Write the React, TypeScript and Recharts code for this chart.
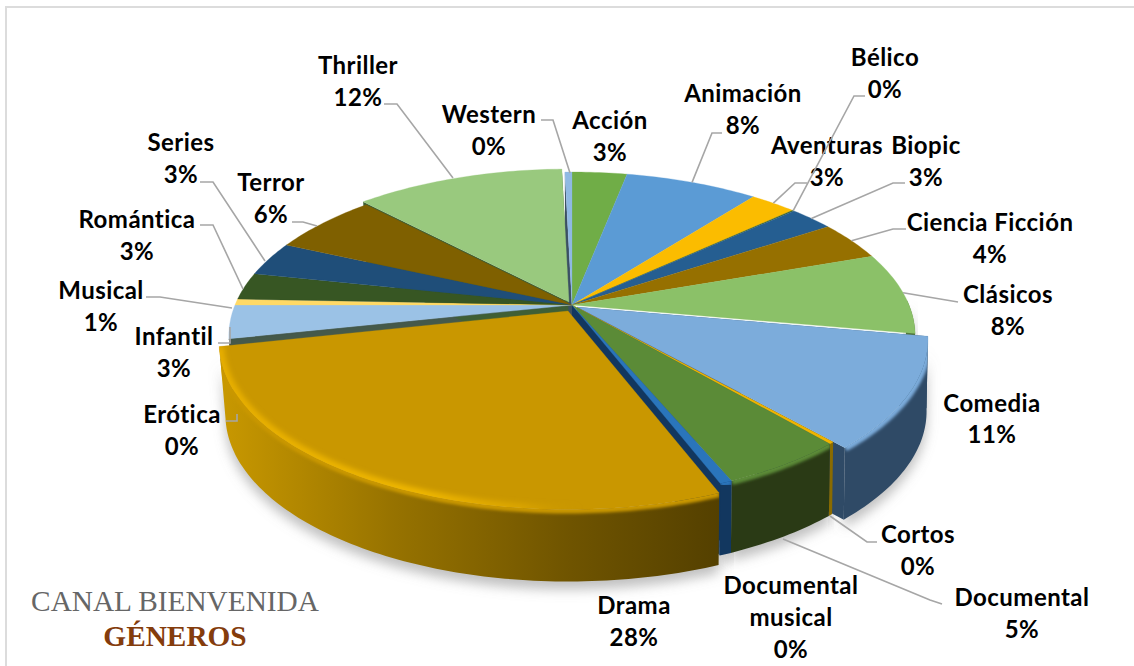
import React from "react";
import { PieChart, Pie } from "recharts";

// Share of programming per genre, in percent
const GENRES = ["Acción","Animación","Aventuras","Bélico","Biopic","Ciencia Ficción","Clásicos","Comedia","Cortos","Documental","Documental musical","Drama","Erótica","Infantil","Musical","Romántica","Series","Terror","Thriller","Western"];
const SHARES = [3.1,7.5,2.6,0.1,2.5,3.9,8.1,10.6,0.2,5.0,0.49,27.5,0.11,3.3,0.6,2.7,3.4,6.1,11.8,0.4];
const TOP_COLORS = ["#70ad47","#5b9bd5","#fbbc00","#43682b","#255e91","#967000","#8bc168","#7cacdb","#f0b400","#5b8b37","#2a75bb","#c99700","#45594a","#9bc2e6","#ffd966","#375623","#1f4e79","#7f6000","#99c97e","#8fb9e3"];
const WALL_COLORS = ["#3f6628","#2f5b85","#8f6c00","#2a421b","#153a5c","#5a4300","#4a6d35","#2f4a66","#8a6b00","#2a3a15","#12375f","url(#dramaWall)","#45594a","#45594a","#8f7a30","#1f3214","#123049","#4a3800","#3f5f35","#3b4f63"];
const RIM_COLORS: Record<string, string> = { Comedia: "#7cacdb", Documental: "#5b8b37", Drama: "#c99700", "Documental musical": "#2a75bb" };

// Slices whose outer wall lies behind the pulled-out Drama slice
const WALL_HIDDEN = ["Erótica", "Infantil", "Musical"];
// Slices whose radial faces show through the gaps of the pulled-out slices
const FACES_SHOWN = ["Comedia", "Documental musical", "Erótica", "Thriller", "Western"];

// Displacement of the pulled-out slices
const EXPLODE: Record<string, { dx: number; dy: number; grow: number }> = {
  Comedia: { dx: 5, dy: 2, grow: 1.022 },
  Drama: { dx: -4, dy: 6, grow: 1.016 },
  Thriller: { dx: -3, dy: -3, grow: 1 },
};

// Label text lines, their centre and the bent part of each leader line
type Callout = { x: number; ys: number[]; lines?: string[]; line?: number[][]; fromRim?: boolean };
const CALLOUTS: Record<string, Callout> = {
  "Acción": { x: 610, ys: [119, 151] },
  "Animación": { x: 743, ys: [92, 124], line: [[712, 133], [722, 133]], fromRim: true },
  "Bélico": { x: 885, ys: [56, 88], line: [[854, 96], [865, 96]], fromRim: true },
  "Aventuras": { x: 827, ys: [144, 176], line: [[795, 183], [807, 183]], fromRim: true },
  "Biopic": { x: 926, ys: [144, 176], line: [[893, 183], [905, 183]], fromRim: true },
  "Ciencia Ficción": { x: 990, ys: [221, 253], line: [[893, 229], [906, 229]], fromRim: true },
  "Clásicos": { x: 1008, ys: [293, 325], line: [[958, 302]], fromRim: true },
  "Comedia": { x: 992, ys: [402, 433] },
  "Cortos": { x: 918, ys: [533, 565], line: [[830, 516], [867, 542], [877, 542]] },
  "Documental": { x: 1022, ys: [596, 628], line: [[783, 539], [930, 600], [942, 604]] },
  "Documental musical": { x: 791, ys: [584, 616, 648], lines: ["Documental", "musical"] },
  "Drama": { x: 634, ys: [604, 636] },
  "Erótica": { x: 182, ys: [413, 445], line: [[226, 421], [237, 421], [237, 414]] },
  "Infantil": { x: 174, ys: [335, 367], line: [[218, 343], [230, 343], [230, 327]] },
  "Musical": { x: 101, ys: [289, 321], line: [[146, 297], [160, 297], [232, 308]] },
  "Romántica": { x: 137, ys: [218, 250], line: [[200, 225], [213, 225], [243, 289]] },
  "Series": { x: 181, ys: [141, 173], line: [[200, 182], [213, 182], [265, 261]] },
  "Terror": { x: 271, ys: [181, 213], line: [[292, 222], [303, 222], [317, 226]] },
  "Thriller": { x: 358, ys: [64, 96], line: [[384, 104], [397, 104], [453, 178]] },
  "Western": { x: 489, ys: [113, 145], line: [[541, 120], [553, 120], [570, 173]] },
};

const pieData = GENRES.map((name, i) => ({ name, value: SHARES[i] }));

// Tilted disc: horizontal radius comes from the Pie, the rest from the viewing angle
const CENTER = { x: 572, y: 305 };
const RX = 337;
const RY = 158;
const DEPTH = 72;
const PERSPECTIVE = 5.31;
const RAD = Math.PI / 180;

const scaleAt = (depthY: number) => PERSPECTIVE / (PERSPECTIVE - depthY);

function project(cx: number, cy: number, rx: number, deg: number, radial: number, name: string, lower: boolean) {
  const e = EXPLODE[name] ?? { dx: 0, dy: 0, grow: 1 };
  const X = Math.sin(deg * RAD) * radial * e.grow;
  const Y = -Math.cos(deg * RAD) * radial * e.grow;
  const s = scaleAt(Y);
  // The lower disc sits slightly inside the upper one, more so on the left
  const inset = lower ? (X < 0 ? 0.982 : 0.996) : 1;
  return {
    x: cx + e.dx + rx * X * s * inset,
    y: cy + e.dy + RY * Y * s + (lower ? DEPTH : 0),
  };
}

function arcPoints(p: any, from: number, to: number, lower: boolean) {
  const out: { x: number; y: number }[] = [];
  const steps = Math.max(1, Math.ceil(Math.abs(to - from)));
  for (let i = 0; i <= steps; i++) {
    out.push(project(p.cx, p.cy, p.outerRadius, from + ((to - from) * i) / steps, 1, p.name, lower));
  }
  return out;
}

const toPath = (pts: { x: number; y: number }[], close = true) =>
  pts.map((q, i) => `${i ? "L" : "M"}${q.x.toFixed(2)} ${q.y.toFixed(2)}`).join(" ") + (close ? " Z" : "");

// Pie angles run counter-clockwise from the east; the disc is laid out clockwise from the north
const clockAngles = (p: any) => {
  const a = 90 - p.startAngle;
  const b = 90 - p.endAngle;
  return [Math.min(a, b), Math.max(a, b)];
};

function frontSpan(a: number, b: number) {
  const lo = Math.max(a, 88);
  const hi = Math.min(b, 272);
  return hi > lo ? [lo, hi] : null;
}

function TopFace(p: any) {
  const [a, b] = clockAngles(p);
  const arc = arcPoints(p, a, b, false);
  const pts = [project(p.cx, p.cy, p.outerRadius, 0, 0, p.name, false), ...arc];
  const fill = TOP_COLORS[GENRES.indexOf(p.name)];
  return (
    <g>
      <path d={toPath(pts)} fill={fill} stroke={fill} strokeWidth={0.3} />
      {p.name === "Drama" && (
        <>
          <clipPath id="dramaTop">
            <path d={toPath(pts)} />
          </clipPath>
          <g clipPath="url(#dramaTop)">
            <path d={toPath(arc, false)} fill="none" stroke="url(#dramaGlow)" strokeWidth={10} filter="url(#glowSoft)" />
          </g>
        </>
      )}
    </g>
  );
}

function CutFaces(p: any) {
  if (!FACES_SHOWN.includes(p.name)) return <g />;
  const [a, b] = clockAngles(p);
  const fill = WALL_COLORS[GENRES.indexOf(p.name)];
  const face = (deg: number) => {
    const apex = project(p.cx, p.cy, p.outerRadius, 0, 0, p.name, false);
    const apexLow = project(p.cx, p.cy, p.outerRadius, 0, 0, p.name, true);
    const rim = project(p.cx, p.cy, p.outerRadius, deg, 1, p.name, false);
    const rimLow = project(p.cx, p.cy, p.outerRadius, deg, 1, p.name, true);
    return toPath([apex, rim, rimLow, apexLow]);
  };
  return (
    <g fill={fill}>
      <path d={face(a)} />
      <path d={face(b)} />
    </g>
  );
}

function OuterWall(p: any) {
  const [a, b] = clockAngles(p);
  const span = frontSpan(a, b);
  if (!span || WALL_HIDDEN.includes(p.name)) return <g />;
  const up = arcPoints(p, span[0], span[1], false);
  const down = arcPoints(p, span[0], span[1], true).reverse();
  const i = GENRES.indexOf(p.name);
  const rim = RIM_COLORS[p.name];
  return (
    <g>
      <path d={toPath([...up, ...down])} fill={WALL_COLORS[i]} />
      {rim && (
        <>
          <clipPath id={`wall-${i}`}>
            <path d={toPath([...up, ...down])} />
          </clipPath>
          <g clipPath={`url(#wall-${i})`}>
            <path d={toPath(up, false)} fill="none" stroke={rim} strokeWidth={8} filter="url(#rimSoft)" />
          </g>
        </>
      )}
    </g>
  );
}

function GroundShadow(p: any) {
  const [a, b] = clockAngles(p);
  const span = frontSpan(a, b);
  if (!span || WALL_HIDDEN.includes(p.name)) return <g />;
  const up = arcPoints(p, span[0], span[1], false);
  const down = arcPoints(p, span[0], span[1], true).reverse();
  return <path d={toPath([...up, ...down])} transform="translate(0 8)" fill="#8c8c8c" fillOpacity={0.55} filter="url(#groundBlur)" />;
}

function Callout(props: any) {
  const name = GENRES[props.index];
  const c = CALLOUTS[name];
  const textLines = [...(c.lines ?? [name]), `${Math.round(SHARES[props.index])}%`];
  const rim = project(CENTER.x, CENTER.y, RX, 90 - props.midAngle, 1, name, false);
  const path = c.line ? [...(c.fromRim ? [rim] : []), ...c.line.map(([x, y]) => ({ x, y }))] : null;
  return (
    <g>
      {path && <path d={toPath(path, false)} fill="none" stroke="#a6a6a6" strokeWidth={1.6} />}
      {textLines.map((t, i) => (
        <text key={t + i} x={c.x} y={c.ys[i]} textAnchor="middle" dominantBaseline="central" fontFamily="Lato, sans-serif" fontWeight={700} fontSize={24} letterSpacing={0.45} fill="#000">
          {t}
        </text>
      ))}
    </g>
  );
}

const pieFrame = {
  data: pieData,
  dataKey: "value",
  nameKey: "name",
  cx: CENTER.x,
  cy: CENTER.y,
  innerRadius: 0,
  outerRadius: RX,
  startAngle: 90,
  endAngle: -270,
  stroke: "none",
  labelLine: false,
  isAnimationActive: false,
};

export default function App() {
  return (
    <div style={{ position: "absolute", left: 0, top: 0, width: 1134, height: 666, background: "#fff", overflow: "hidden" }}>
      <div style={{ position: "absolute", left: 5, top: 6, width: 1140, height: 680, borderLeft: "2px solid #dcdcdc", borderTop: "2px solid #dcdcdc" }} />
      <div style={{ position: "absolute", left: 0, top: 0 }}>
        <PieChart width={1134} height={666} margin={{ top: 0, right: 0, bottom: 0, left: 0 }}>
          <defs>
            <linearGradient id="dramaWall" gradientUnits="userSpaceOnUse" x1="222" y1="0" x2="720" y2="0">
              <stop offset="0" stopColor="#c89800" />
              <stop offset="0.35" stopColor="#967200" />
              <stop offset="0.7" stopColor="#6f5400" />
              <stop offset="1" stopColor="#544000" />
            </linearGradient>
            <linearGradient id="dramaGlow" gradientUnits="userSpaceOnUse" x1="222" y1="0" x2="720" y2="0">
              <stop offset="0" stopColor="#e6ae00" />
              <stop offset="0.4" stopColor="#eeb600" />
              <stop offset="0.6" stopColor="#e8b000" stopOpacity={0.5} />
              <stop offset="0.72" stopColor="#c99700" stopOpacity={0} />
            </linearGradient>
            <filter id="rimSoft" x="-20%" y="-20%" width="140%" height="140%">
              <feGaussianBlur stdDeviation="1.7" />
            </filter>
            <filter id="glowSoft" x="-20%" y="-20%" width="140%" height="140%">
              <feGaussianBlur stdDeviation="2.4" />
            </filter>
            <filter id="groundBlur" x="-20%" y="-40%" width="140%" height="180%">
              <feGaussianBlur stdDeviation="6" />
            </filter>
          </defs>
          <Pie {...pieFrame} shape={GroundShadow} />
          <Pie {...pieFrame} shape={CutFaces} />
          <Pie {...pieFrame} shape={OuterWall} />
          <Pie {...pieFrame} shape={TopFace} label={Callout} />
        </PieChart>
      </div>
      <div style={{ position: "absolute", left: 0, top: 584, width: 350, textAlign: "center", fontFamily: "'Liberation Serif', serif", lineHeight: "35px" }}>
        <div style={{ fontSize: 29.3, color: "#666666" }}>CANAL BIENVENIDA</div>
        <div style={{ fontSize: 29.3, fontWeight: 700, color: "#843c0c" }}>GÉNEROS</div>
      </div>
    </div>
  );
}
